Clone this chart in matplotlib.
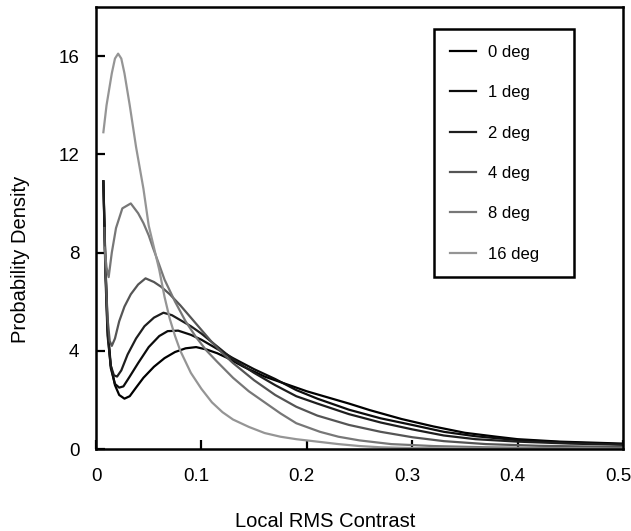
import matplotlib
matplotlib.use("Agg")
import matplotlib.pyplot as plt
from matplotlib.transforms import ScaledTranslation

plt.rcParams['font.family'] = ['Liberation Sans', 'DejaVu Sans']

labels = ['0 deg', '1 deg', '2 deg', '4 deg', '8 deg', '16 deg']
colors = ['#000000', '#0c0c0c', '#1e1e1e', '#555555', '#777777', '#959595']

# values: (contrast, density)
x0 = [0.007, 0.009, 0.011, 0.014, 0.018, 0.022, 0.027, 0.032, 0.038, 0.045, 0.055, 0.065, 0.075,
      0.085, 0.095, 0.105, 0.115, 0.125, 0.14, 0.16, 0.18, 0.2, 0.22, 0.24, 0.26, 0.29, 0.32, 0.35,
      0.38, 0.40, 0.44, 0.5]
y0 = [10.9, 7.5, 5.0, 3.4, 2.6, 2.2, 2.05, 2.15, 2.5, 2.9, 3.35, 3.7, 3.95,
      4.1, 4.15, 4.05, 3.9, 3.7, 3.35, 2.95, 2.65, 2.35, 2.1, 1.85, 1.58, 1.22, 0.92, 0.66,
      0.5, 0.4, 0.3, 0.22]

x1 = [0.007, 0.009, 0.011, 0.014, 0.018, 0.022, 0.026, 0.032, 0.04, 0.05, 0.06, 0.068, 0.078,
      0.09, 0.1, 0.11, 0.12, 0.13, 0.15, 0.17, 0.19, 0.21, 0.24, 0.27, 0.3, 0.33, 0.36, 0.4,
      0.45, 0.5]
y1 = [10.9, 7.3, 4.8, 3.3, 2.65, 2.5, 2.55, 2.95, 3.5, 4.15, 4.6, 4.8, 4.82,
      4.65, 4.45, 4.2, 3.95, 3.7, 3.25, 2.85, 2.4, 2.05, 1.6, 1.25, 0.98, 0.7, 0.52, 0.36,
      0.26, 0.19]

x2 = [0.007, 0.009, 0.011, 0.014, 0.017, 0.02, 0.024, 0.03, 0.038, 0.046, 0.055, 0.064, 0.072,
      0.08, 0.09, 0.1, 0.11, 0.12, 0.13, 0.15, 0.17, 0.19, 0.21, 0.24, 0.27, 0.3, 0.33, 0.36,
      0.4, 0.45, 0.5]
y2 = [10.9, 7.0, 4.6, 3.4, 3.0, 2.95, 3.2, 3.85, 4.5, 5.0, 5.35, 5.55, 5.45,
      5.25, 5.0, 4.7, 4.35, 4.0, 3.65, 3.1, 2.6, 2.15, 1.85, 1.42, 1.08, 0.8, 0.55, 0.4,
      0.3, 0.22, 0.17]

x4 = [0.008, 0.009, 0.011, 0.013, 0.015, 0.018, 0.022, 0.027, 0.033, 0.04, 0.047, 0.055, 0.062,
      0.07, 0.08, 0.09, 0.1, 0.11, 0.12, 0.13, 0.15, 0.17, 0.19, 0.21, 0.24, 0.27, 0.3, 0.33,
      0.37, 0.42, 0.5]
y4 = [9.0, 7.3, 5.3, 4.4, 4.2, 4.5, 5.2, 5.8, 6.3, 6.7, 6.95, 6.8, 6.6,
      6.3, 5.85, 5.35, 4.85, 4.35, 3.9, 3.5, 2.8, 2.2, 1.72, 1.36, 0.98, 0.7, 0.48, 0.32,
      0.2, 0.13, 0.08]

x8 = [0.008, 0.010, 0.012, 0.015, 0.019, 0.025, 0.033, 0.04, 0.045, 0.05, 0.054, 0.06, 0.065,
      0.075, 0.085, 0.095, 0.105, 0.115, 0.13, 0.145, 0.16, 0.175, 0.19, 0.2125, 0.23, 0.25,
      0.28, 0.32, 0.37, 0.45, 0.5]
y8 = [8.2, 7.4, 7.0, 8.0, 9.0, 9.8, 10.0, 9.6, 9.2, 8.7, 8.2, 7.5, 6.9,
      6.0, 5.2, 4.55, 4.0, 3.55, 2.9, 2.35, 1.9, 1.45, 1.05, 0.7, 0.5, 0.35,
      0.2, 0.12, 0.07, 0.03, 0.02]

x16 = [0.007, 0.010, 0.0125, 0.015, 0.018, 0.021, 0.024, 0.027, 0.032, 0.038, 0.045, 0.05, 0.055,
       0.06, 0.065, 0.07, 0.075, 0.08, 0.09, 0.1, 0.11, 0.12, 0.13, 0.145, 0.16, 0.175, 0.19,
       0.21, 0.23, 0.25, 0.27, 0.3, 0.35, 0.4, 0.45, 0.5]
y16 = [12.9, 14.0, 14.65, 15.3, 15.9, 16.1, 15.9, 15.3, 14.0, 12.3, 10.6, 9.1, 8.2,
       7.3, 6.2, 5.3, 4.6, 4.0, 3.1, 2.45, 1.9, 1.5, 1.2, 0.9, 0.65, 0.5, 0.4,
       0.3, 0.2, 0.12, 0.07, 0.04, 0.02, 0.01, 0.01, 0.0]

xs = [x0, x1, x2, x4, x8, x16]
ys = [y0, y1, y2, y4, y8, y16]

xtick_vals = [0, 0.1, 0.2, 0.3, 0.4, 0.5]
xtick_text = ['0', '0.1', '0.2', '0.3', '0.4', '0.5']
ytick_vals = [0, 4, 8, 12, 16]

fig = plt.figure(figsize=(6.31, 5.31), dpi=100)
ax = fig.add_axes([96 / 631, 82 / 531, 527 / 631, 442 / 531])

for xx, yy, c, lab in zip(xs, ys, colors, labels):
    ax.plot(xx, yy, color=c, lw=1.6, label=lab)

ax.set_xlim(0, 0.5)
ax.set_ylim(0, 18)
ax.set_xticks(xtick_vals)
ax.set_xticklabels(xtick_text)
ax.set_yticks(ytick_vals)
ax.tick_params(direction='in', length=6.5, width=1.6, labelsize=13.5, colors='black')
ax.tick_params(axis='x', pad=14)
ax.tick_params(axis='y', pad=12)
for s in ax.spines.values():
    s.set_linewidth(1.8)

# decimal labels sit a little left of their ticks in the original
for i, t in enumerate(ax.get_xticklabels()):
    if i > 0:
        t.set_transform(t.get_transform() + ScaledTranslation(-5 / 100, 0, fig.dpi_scale_trans))

ax.set_xlabel('Local RMS Contrast', fontsize=14.5)
ax.set_ylabel('Probability Density', fontsize=14.5)
ax.xaxis.set_label_coords(0.435, -0.1425)
ax.yaxis.set_label_coords(-0.125, 0.428)

leg = ax.legend(loc='upper left', bbox_to_anchor=(0.641, 0.405, 0.266, 0.545), mode='expand',
                borderaxespad=0, fontsize=12, labelspacing=1.52, handlelength=1.56,
                handletextpad=0.72, borderpad=0.95, fancybox=False, framealpha=1)
leg.get_frame().set_edgecolor('black')
leg.get_frame().set_linewidth(1.8)

fig.savefig('out.png', dpi=100)
